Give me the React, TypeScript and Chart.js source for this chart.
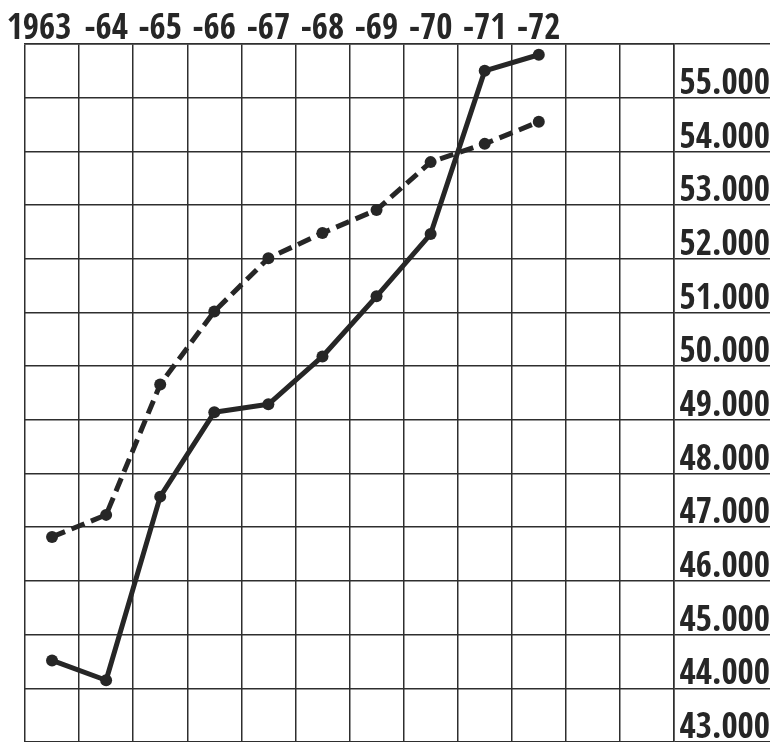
import React, { useEffect, useRef } from 'react';
import { Chart, registerables } from 'chart.js';

Chart.register(...registerables);

// Column labels (12 grid columns, the last two are empty)
const yearLabels = ['1963   ', '-64', '-65', '-66', '-67', '-68', '-69', '-70', '-71', '-72', '', ''];

// Solid line series
const solidValues = [44520, 44150, 47570, 49140, 49290, 50180, 51300, 52460, 55500, 55800];

// Dashed line series
const dashedValues = [46820, 47230, 49660, 51020, 52010, 52480, 52910, 53800, 54140, 54550];

// Value axis
const yMin = 43000;
const yMax = 56000;
const yStep = 1000;

const INK = '#262626';
const GRID = '#2e2e2e';
const FONT_FAMILY = "'Open Sans Condensed', 'Roboto Condensed', 'Liberation Sans Narrow', sans-serif";

function formatTick(v: number): string {
  const thousands = Math.round(v / 1000);
  return `${thousands}.000`;
}

export default function App() {
  const canvasRef = useRef<HTMLCanvasElement | null>(null);

  useEffect(() => {
    document.body.style.margin = '0';
    const canvas = canvasRef.current;
    if (!canvas) return;

    const labelFont = { family: FONT_FAMILY, size: 35, weight: '800' as any, lineHeight: 1 };

    const chart = new Chart(canvas, {
      type: 'line',
      data: {
        labels: yearLabels,
        datasets: [
          {
            label: 'solid',
            data: solidValues,
            borderColor: INK,
            backgroundColor: INK,
            borderWidth: 5,
            borderJoinStyle: 'round',
            borderCapStyle: 'round',
            pointRadius: 6,
            pointBorderWidth: 0,
            pointBackgroundColor: INK,
            tension: 0,
            fill: false,
          },
          {
            label: 'dashed',
            data: dashedValues,
            borderColor: INK,
            backgroundColor: INK,
            borderWidth: 5,
            borderDash: [14, 7],
            borderCapStyle: 'butt',
            pointRadius: 6,
            pointBorderWidth: 0,
            pointBackgroundColor: INK,
            tension: 0,
            fill: false,
          },
        ],
      },
      options: {
        responsive: false,
        animation: false,
        layout: { autoPadding: false, padding: { left: 25, right: 3, top: 0, bottom: 0 } },
        plugins: {
          legend: { display: false },
          tooltip: { enabled: false },
          title: { display: false },
        },
        scales: {
          x: {
            type: 'category',
            position: 'top',
            offset: true,
            grid: { offset: true, color: GRID, lineWidth: 1.5, drawTicks: false },
            border: { color: GRID, width: 1.5 },
            ticks: {
              color: INK,
              autoSkip: false,
              maxRotation: 0,
              minRotation: 0,
              padding: -3,
              font: labelFont,
            },
            afterFit: (scale: any) => {
              scale.height = 44;
              scale.paddingLeft = 0;
              scale.paddingRight = 0;
            },
          },
          y: {
            type: 'linear',
            position: 'right',
            min: yMin,
            max: yMax,
            ticks: {
              stepSize: yStep,
              color: INK,
              crossAlign: 'far',
              labelOffset: -13,
              padding: 0,
              font: labelFont,
              callback: (value: any) => (Number(value) === yMax ? '' : formatTick(Number(value))),
            },
            grid: {
              color: GRID,
              lineWidth: 1.5,
              drawTicks: true,
              tickLength: 96,
              tickColor: GRID,
              tickWidth: 1.5,
            },
            border: { color: GRID, width: 1.5 },
            afterFit: (scale: any) => {
              scale.width = 96;
              scale.paddingTop = 0;
              scale.paddingBottom = 0;
            },
          },
        },
      },
    });

    return () => {
      chart.destroy();
    };
  }, []);

  return (
    <div style={{ position: 'absolute', left: 0, top: 0, width: 773, height: 742, background: '#ffffff' }}>
      <canvas ref={canvasRef} width={773} height={742} style={{ display: 'block' }} />
    </div>
  );
}
